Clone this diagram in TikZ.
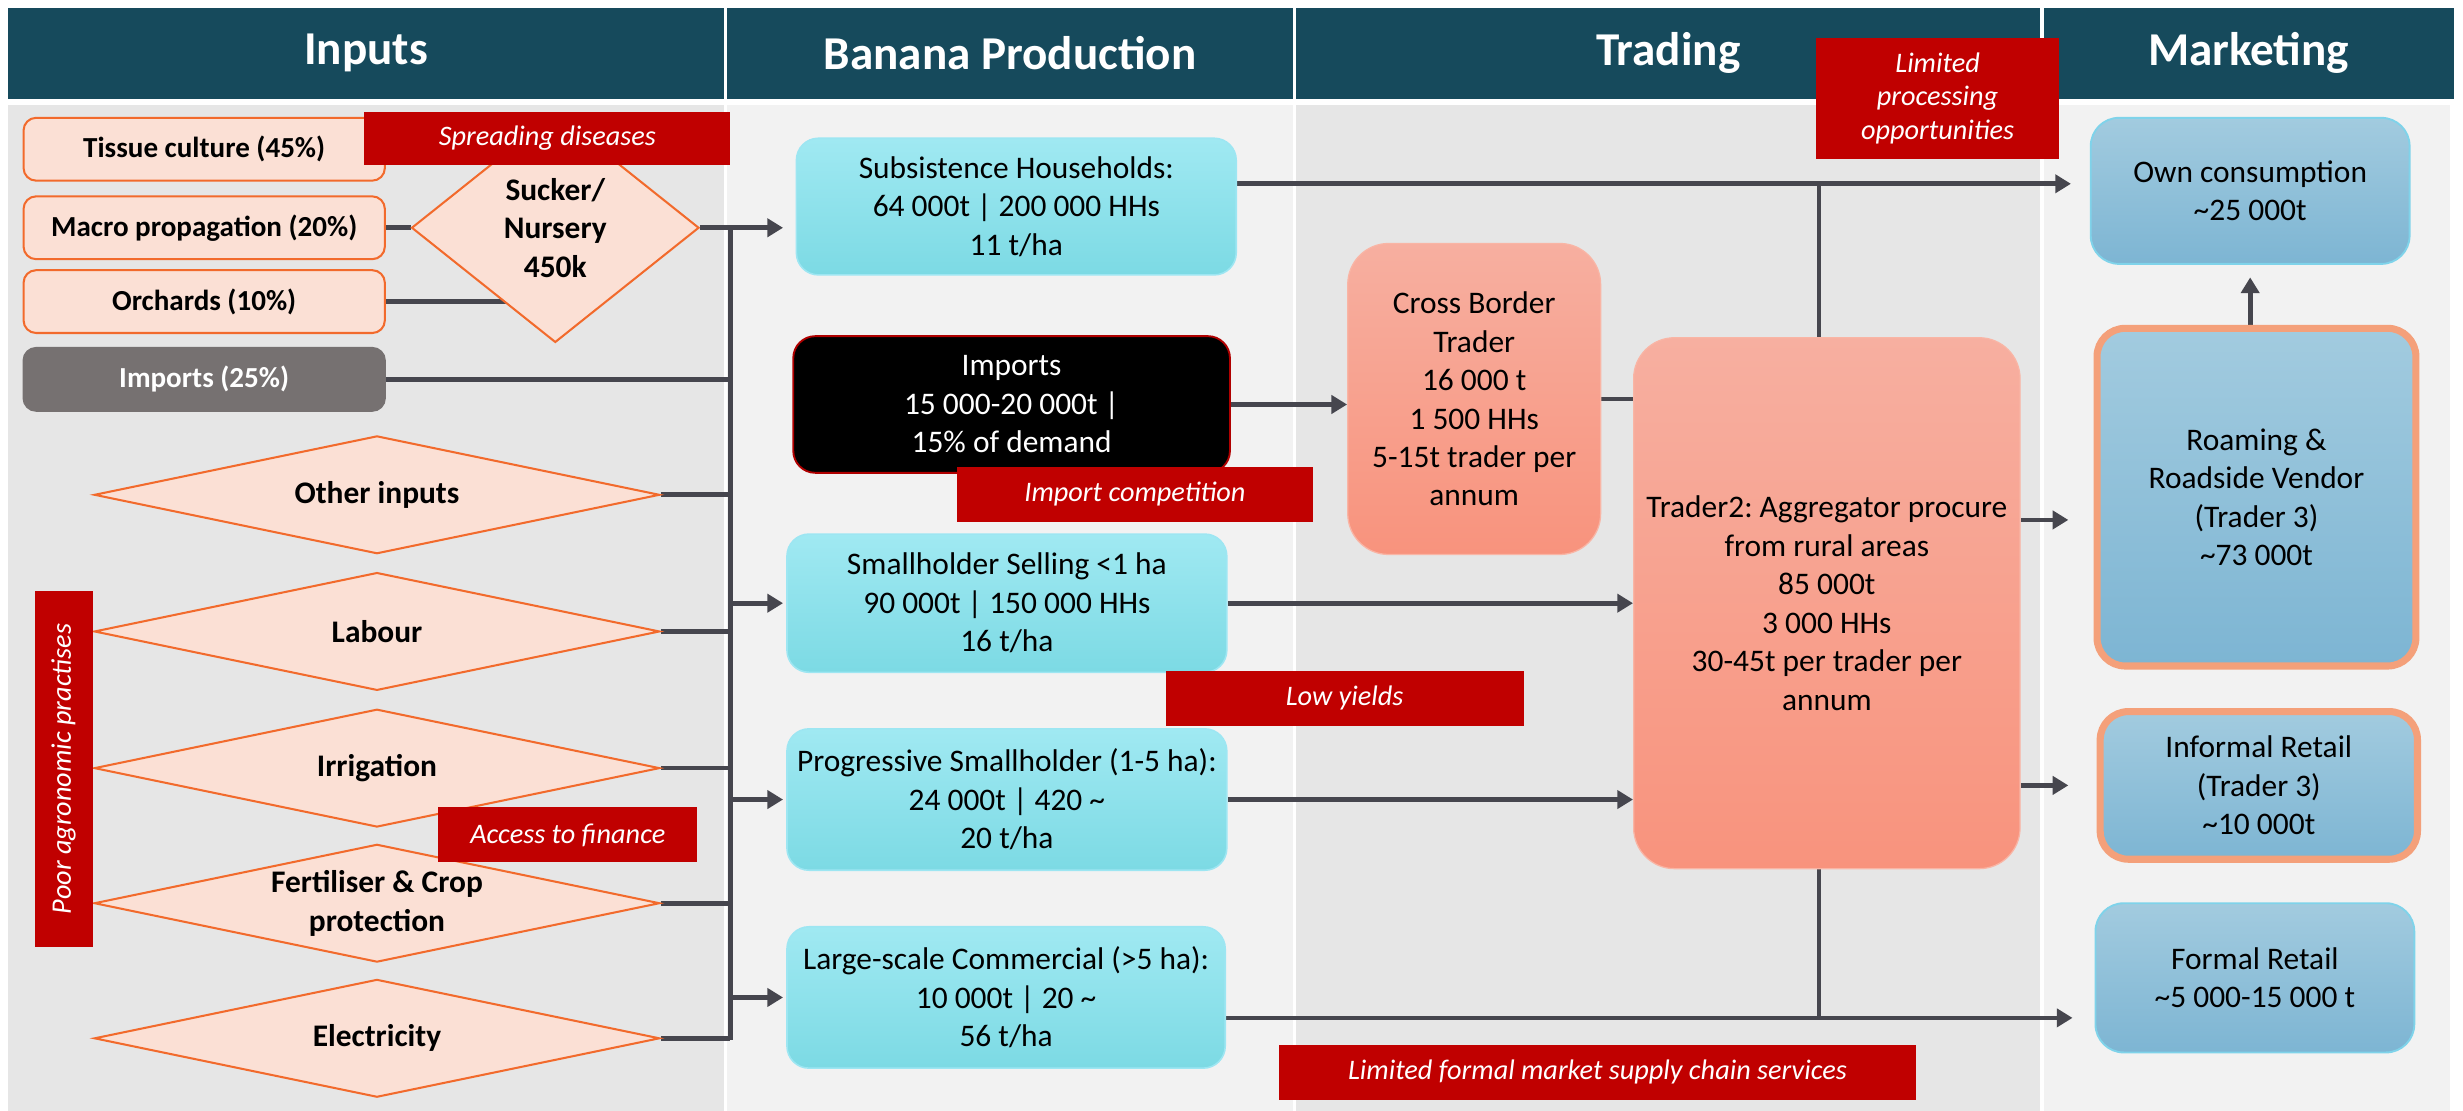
\documentclass[tikz,border=0pt]{standalone}
\usepackage{fontspec}
\setmainfont{Carlito}
\usetikzlibrary{shapes.geometric,arrows.meta,calc}
\pgfdeclarelayer{back}
\pgfdeclarelayer{edge}
\pgfsetlayers{back,edge,main}
\frenchspacing
\definecolor{hdr}{HTML}{164A5C}
\definecolor{colA}{HTML}{E6E6E6}
\definecolor{colB}{HTML}{F2F2F2}
\definecolor{peach}{HTML}{FBE0D5}
\definecolor{inor}{HTML}{F26A2C}
\definecolor{grayC}{HTML}{767171}
\definecolor{redC}{HTML}{C00000}
\definecolor{cyanT}{HTML}{A0E9F2}
\definecolor{cyanB}{HTML}{7CDAE4}
\definecolor{cyanE}{HTML}{9DE6F2}
\definecolor{salT}{HTML}{F7AFA0}
\definecolor{salB}{HTML}{F8937D}
\definecolor{salE}{HTML}{F9B5A5}
\definecolor{bluT}{HTML}{A2CBDF}
\definecolor{bluB}{HTML}{7DB5D3}
\definecolor{bluE}{HTML}{7FD3EA}
\definecolor{orE}{HTML}{F4A07A}
\definecolor{lineC}{HTML}{46464E}
\definecolor{darkred}{HTML}{B00000}
\tikzset{
  hdrbox/.style={fill=hdr, text=white, minimum height=58pt, inner sep=0pt, font=\fontsize{30}{36}\selectfont\bfseries},
  inbox/.style={draw=inor, line width=1.3pt, fill=peach, rounded corners=8pt, minimum width=230pt, minimum height=40pt, inner sep=0pt, font=\fontsize{18.5}{22}\selectfont\bfseries, text=black},
  dtext/.style={align=center, inner sep=0pt, font=\fontsize{20}{24.6}\selectfont\bfseries, text=black},
  dia/.style={diamond, draw=inor, line width=1.3pt, fill=peach, minimum width=360pt, minimum height=75pt, inner sep=0pt},
  bodyfont/.style={align=center, inner sep=0pt, font=\fontsize{20}{24.5}\selectfont, text=black},
  prodbox/.style={bodyfont, rounded corners=14pt, top color=cyanT, bottom color=cyanB, draw=cyanE, line width=1pt, minimum width=280pt, minimum height=88pt},
  blackbox/.style={bodyfont, rounded corners=14pt, fill=black, draw=darkred, line width=1.2pt, text=white, minimum width=278pt, minimum height=87pt},
  tradebox/.style={bodyfont, rounded corners=26pt, top color=salT, bottom color=salB, draw=salE, line width=0.8pt},
  mktbox/.style={bodyfont, rounded corners=18pt, top color=bluT, bottom color=bluB, draw=bluE, line width=1.2pt},
  mktboxo/.style={mktbox, draw=orE, line width=4.5pt},
  redbox/.style={fill=redC, text=white, inner sep=0pt, align=center, font=\fontsize{18}{21.3}\selectfont\itshape},
  conn/.style={draw=lineC, line width=3pt},
  arr/.style={conn, -{Triangle[length=10pt,width=11.5pt]}}
}
\begin{document}
\begin{tikzpicture}[x=1pt,y=-1pt]
\useasboundingbox (0,0) rectangle (1568,707);
\begin{pgfonlayer}{back}
\fill[white] (0,0) rectangle (1568,707);
\fill[colA] (5,67) rectangle (461,707);
\fill[colB] (463,67) rectangle (823,707);
\fill[colA] (825,67) rectangle (1299,707);
\fill[colB] (1301,67) rectangle (1560,707);
\node[hdrbox, minimum width=456pt] (hIn) at (233,34) {Inputs};
\node[hdrbox, minimum width=360pt] (hBa) at (643,34) {Banana Production};
\node[hdrbox, minimum width=474pt] (hTr) at (1062,34) {Trading};
\node[hdrbox, minimum width=261pt] (hMk) at (1431.5,34) {Marketing};
\end{pgfonlayer}

% Inputs
\node[inbox] (tc) at (130,95) {Tissue culture (45\%)};
\node[inbox] (mp) at (130,145) {Macro propagation (20\%)};
\node[inbox] (orch) at (130,192) {Orchards (10\%)};
\node[inbox, fill=grayC, draw=grayC, text=white] (imp25) at (130,241.5) {Imports (25\%)};
\node[dia, minimum width=183pt, minimum height=146pt, label={[dtext]center:{Sucker/\\Nursery\\450k}}] (suck) at (353.5,145) {};
\node[dia, label={[dtext]center:{Other inputs}}] (oi) at (240,315) {};
\node[dia, label={[dtext]center:{Labour}}] (lab) at (240,402) {};
\node[dia, label={[dtext]center:{Irrigation}}] (irr) at (240,489) {};
\node[dia, label={[dtext]center:{Fertiliser \& Crop\\protection}}] (fert) at (240,575) {};
\node[dia, label={[dtext]center:{Electricity}}] (elec) at (240,661) {};

% Banana production
\node[prodbox, minimum height=87pt] (subs) at (647,131.5) {Subsistence Households:\\64 000t | 200 000 HHs\\11 t/ha};
\node[blackbox] (impb) at (644,257.5) {Imports\\15 000-20 000t |\\15\% of demand};
\node[prodbox] (ss) at (641,384) {Smallholder Selling <1 ha\\90 000t | 150 000 HHs\\16 t/ha};
\node[prodbox, minimum height=90pt] (ps) at (641,509) {Progressive Smallholder (1-5 ha):\\24 000t | 420 \textasciitilde\\20 t/ha};
\node[prodbox, minimum width=279pt, minimum height=90pt] (lc) at (640.5,635) {Large-scale Commercial (>5 ha):\\10 000t | 20 \textasciitilde\\56 t/ha};

% Trading
\node[tradebox, minimum width=161pt, minimum height=198pt] (cbt) at (938.5,254) {Cross Border\\Trader\\16 000 t\\1 500 HHs\\5-15t trader per\\annum};
\node[tradebox, minimum width=246pt, minimum height=338pt] (t2) at (1163,384) {Trader2: Aggregator procure\\from rural areas\\85 000t\\3 000 HHs\\30-45t per trader per\\annum};

% Marketing
\node[mktbox, minimum width=203pt, minimum height=93pt] (own) at (1432.5,121.5) {Own consumption\\\textasciitilde25 000t};
\node[mktboxo, minimum width=203pt, minimum height=215pt] (rv) at (1436.5,316.5) {Roaming \&\\Roadside Vendor\\(Trader 3)\\\textasciitilde73 000t};
\node[mktboxo, minimum width=202pt, minimum height=94pt] (ir) at (1438,500) {Informal Retail\\(Trader 3)\\\textasciitilde10 000t};
\node[mktbox, minimum width=203pt, minimum height=95pt] (fr) at (1435.5,622.5) {Formal Retail\\\textasciitilde5 000-15 000 t};

% connectors
\begin{pgfonlayer}{edge}
\coordinate (bt) at (465,145);
\coordinate (bb) at (465,662);
\draw[conn] (bt) -- (bb);
\draw[conn] (mp.east) -- (suck.west);
\draw[conn] (orch.east) -- (orch.east -| suck.center);
\draw[arr, shorten >=8pt] (suck.east) -- (suck.east -| subs.west);
\draw[conn] (imp25.east) -- (imp25.east -| bt);
\foreach \d in {oi,lab,irr,fert,elec} {\draw[conn] (\d.east) -- (\d.east -| bt);}
\draw[arr, shorten >=2pt] (ss.west -| bt) -- (ss.west);
\draw[arr, shorten >=2pt] (ps.west -| bt) -- (ps.west);
\draw[arr, shorten >=2pt] (lc.west -| bt) -- (lc.west);
\draw[arr] (impb.east) -- (impb.east -| cbt.west);
\draw[conn] (cbt.east) -- (cbt.east -| t2.west);
\draw[arr] (ss.east) -- (ss.east -| t2.west);
\draw[arr] (ps.east) -- (ps.east -| t2.west);
\coordinate (sA) at ([yshift=14.5pt]subs.east);
\draw[arr, shorten >=12pt] (sA) -- (sA -| own.west);
\coordinate (tT) at ([xshift=-5pt]t2.north);
\draw[conn] (tT) -- (tT |- sA);
\coordinate (lA) at ([yshift=-13pt]lc.east);
\draw[arr, shorten >=14pt] (lA) -- (lA -| fr.west);
\coordinate (tB) at ([xshift=-5pt]t2.south);
\draw[conn] (tB) -- (tB |- lA);
\coordinate (tR) at ([yshift=53pt]t2.east);
\draw[arr, shorten >=16pt] (tR) -- (tR -| rv.west);
\draw[arr, shorten >=18pt] (t2.east |- ir.west) -- (ir.west);
\draw[arr, shorten >=8pt] (own.south |- rv.north) -- (own.south);
\end{pgfonlayer}

% red issue boxes
\node[redbox, minimum width=233pt, minimum height=34pt] (sd) at (348.5,88) {Spreading diseases};
\node[redbox, minimum width=155pt, minimum height=77pt] (lpo) at (1233.5,62.5) {Limited\\processing\\opportunities};
\node[redbox, minimum width=227pt, minimum height=35pt] (icomp) at (722.5,314.5) {Import competition};
\node[redbox, minimum width=228pt, minimum height=35pt] (ly) at (856,444.5) {Low yields};
\node[redbox, minimum width=165pt, minimum height=35pt] (af) at (361.5,531.5) {Access to finance};
\node[redbox, minimum width=406pt, minimum height=35pt] (lfm) at (1017,682.5) {Limited formal market supply chain services};
\node[redbox, rotate=90, minimum width=227pt, minimum height=37pt] (pap) at (40.5,489.5) {Poor agronomic practises};
\end{tikzpicture}
\end{document}
